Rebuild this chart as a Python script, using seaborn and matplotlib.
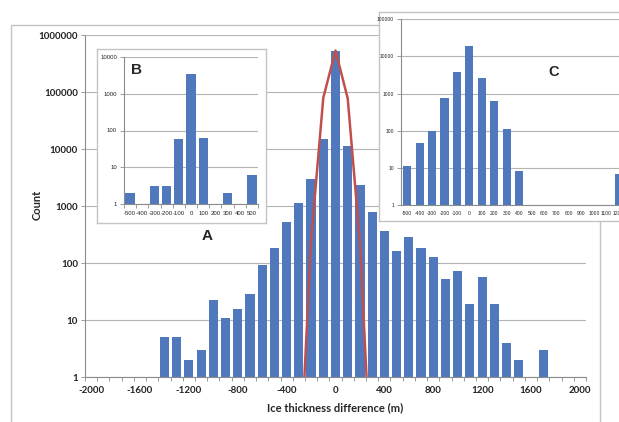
import matplotlib
matplotlib.use("Agg")
import matplotlib.pyplot as plt
from matplotlib.patches import Rectangle
from matplotlib.ticker import FixedLocator, NullLocator
import seaborn as sns

# main histogram (A), 100 m bins
main_bins = [-1400, -1300, -1200, -1100, -1000, -900, -800, -700, -600, -500,
             -400, -300, -200, -100, 0, 100, 200, 300, 400, 500,
             600, 700, 800, 900, 1000, 1100, 1200, 1300, 1400, 1500, 1700]
main_counts = [5, 5, 2, 3, 23, 11, 16, 29, 94, 183,
               524, 1160, 2960, 15000, 540000, 11500, 2350, 806, 374, 162,
               290, 183, 127, 54, 74, 19, 57, 19, 4, 2, 3]
# red fitted curve
curve_x = [-300, -200, -100, 0, 100, 200, 300]
curve_y = [0.01, 250, 80000, 540000, 78000, 230, 0.01]

# inset B
b_bins = [-500, -300, -200, -100, 0, 100, 300, 500]
b_counts = [2, 3, 3, 60, 3380, 63, 2, 6]
b_ticks = [-500, -400, -300, -200, -100, 0, 100, 200, 300, 400, 500]

# inset C
c_bins = [-500, -400, -300, -200, -100, 0, 100, 200, 300, 400, 1200]
c_counts = [11, 46, 100, 760, 3800, 19500, 2600, 645, 112, 8, 7]
c_ticks = [-500, -400, -300, -200, -100, 0, 100, 200, 300, 400, 500, 600,
           700, 800, 900, 1000, 1100, 1200]

main_xticks = [-2000, -1600, -1200, -800, -400, 0, 400, 800, 1200, 1600, 2000]
main_yticks = [1, 10, 100, 1000, 10000, 100000, 1000000]

BLUE = "#4F79BC"
RED = "#C0504D"
GRID = "#B4B4B4"
AXIS = "#8C8C8C"
FRAME = "#C4C4C4"

sns.set_theme(style="white")
plt.rcParams["font.family"] = ["Liberation Sans", "DejaVu Sans"]

W, H = 619, 422
fig = plt.figure(figsize=(W / 100, H / 100), dpi=100)


def box(x0, y0, x1, y1):
    # pixel box (top-left origin) -> figure fraction rect
    return [x0 / W, 1 - y1 / H, (x1 - x0) / W, (y1 - y0) / H]


def style_log(ax, yticks, xticks, xlabels, fs, bold=False, ylim=None, xlim=None):
    ax.set_yscale("log")
    ax.set_ylim(*ylim)
    ax.set_xlim(*xlim)
    ax.yaxis.set_major_locator(FixedLocator(yticks))
    ax.yaxis.set_minor_locator(NullLocator())
    ax.set_yticklabels([str(v) for v in yticks])
    ax.set_xticks(xticks)
    ax.set_xticklabels(xlabels)
    ax.xaxis.set_minor_locator(FixedLocator(
        [t + 50 for t in range(int(xlim[0]) - 50, int(xlim[1]) + 50, 100)]))
    ax.tick_params(axis="x", which="major", length=0, pad=3, labelsize=fs)
    ax.tick_params(axis="x", which="minor", length=3, width=0.6, color=AXIS,
                   direction="out", bottom=True)
    ax.tick_params(axis="y", which="major", length=3, width=0.6, color=AXIS,
                   direction="out", left=True, labelsize=fs, pad=2)
    for lab in ax.get_xticklabels() + ax.get_yticklabels():
        lab.set_fontweight("bold" if bold else "normal")
        lab.set_color("#222222")
    ax.grid(axis="y", color=GRID, lw=0.8)
    ax.grid(axis="x", visible=False)
    ax.set_axisbelow(True)
    for s in ["top", "right"]:
        ax.spines[s].set_visible(False)
    for s in ["left", "bottom"]:
        ax.spines[s].set_color(AXIS)
        ax.spines[s].set_linewidth(0.8)
    ax.set_xlabel("")
    ax.set_ylabel("")


# outer grey frame
fig.add_artist(Rectangle((11 / W, -0.1), (600 - 11) / W, 0.1 + 1 - 25 / H,
                         transform=fig.transFigure, fill=False,
                         edgecolor=FRAME, lw=1.0, zorder=0))

# ---- main chart
ax = fig.add_axes(box(85, 35.3, 586, 377.3))
ax.patch.set_alpha(0)
sns.barplot(x=main_bins, y=main_counts, native_scale=True, width=0.75,
            color=BLUE, saturation=1, linewidth=0, ax=ax)
sns.lineplot(x=curve_x, y=curve_y, color=RED, lw=1.8, sort=False,
             estimator=None, ax=ax)
style_log(ax, main_yticks, main_xticks, [str(v) for v in main_xticks], 7,
          bold=True, ylim=(1, 1000000), xlim=(-2050, 2050))
ax.tick_params(axis="x", which="major", pad=6)
fig.text(37 / W, 1 - 205 / H, "Count", rotation=90, ha="center", va="center",
         fontsize=8, fontweight="bold", family=["Lato", "DejaVu Sans"])
fig.text(335 / W, 1 - 408 / H, "Ice thickness difference (m)", ha="center",
         va="center", fontsize=8, fontweight="bold", family=["Lato", "DejaVu Sans"])
for lab in ax.get_xticklabels() + ax.get_yticklabels():
    lab.set_family(["Lato", "DejaVu Sans"])

# ---- inset B
fb = fig.add_axes(box(97, 49, 266, 223), zorder=2)
fb.set_xticks([]); fb.set_yticks([])
for s in fb.spines.values():
    s.set_color(FRAME); s.set_linewidth(1.0)
axb = fig.add_axes(box(124, 57, 258, 204), zorder=3)
axb.patch.set_alpha(0)
sns.barplot(x=b_bins, y=b_counts, native_scale=True, width=0.76,
            color=BLUE, saturation=1, linewidth=0, ax=axb)
style_log(axb, [1, 10, 100, 1000, 10000], b_ticks, [str(v) for v in b_ticks],
          4.3, ylim=(1, 10000), xlim=(-550, 550))
axb.tick_params(axis="x", which="major", pad=5)
fig.text(137 / W, 1 - 70 / H, "B", ha="center", va="center", fontsize=11,
         fontweight="bold", zorder=4)
fig.text(207 / W, 1 - 236 / H, "A", ha="center", va="center", fontsize=11,
         fontweight="bold")

# ---- inset C
fc = fig.add_axes(box(378.5, 12, 720, 221.5), zorder=2)
fc.set_xticks([]); fc.set_yticks([])
for s in fc.spines.values():
    s.set_color(FRAME); s.set_linewidth(1.0)
axc = fig.add_axes(box(401, 19.3, 401 + 22 * 12.44, 205), zorder=3)
axc.patch.set_alpha(0)
sns.barplot(x=c_bins, y=c_counts, native_scale=True, width=0.65,
            color=BLUE, saturation=1, linewidth=0, ax=axc)
style_log(axc, [1, 10, 100, 1000, 10000, 100000], c_ticks,
          [str(v) for v in c_ticks], 3.6, ylim=(1, 100000), xlim=(-550, 1650))
axc.tick_params(axis="x", which="minor", length=0)
axc.tick_params(axis="x", which="major", pad=4)
fig.text(554 / W, 1 - 72 / H, "C", ha="center", va="center", fontsize=10.5,
         fontweight="bold", zorder=4)

fig.savefig("out.png", dpi=100)
